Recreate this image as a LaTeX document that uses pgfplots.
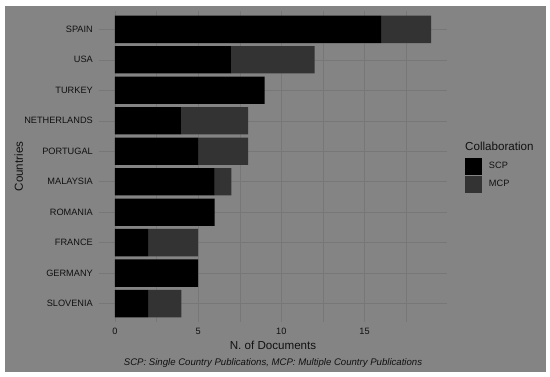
\documentclass[border=0pt]{standalone}
\usepackage{pgfplots}
\pgfplotsset{compat=1.18}
\usepackage{fontspec}
\setmainfont{Liberation Sans}
\definecolor{bg}{HTML}{848484}
\definecolor{gridc}{HTML}{777777}
\definecolor{mcp}{HTML}{333333}
\definecolor{txt}{HTML}{111111}
\begin{document}
\begin{tikzpicture}[x=1pt,y=1pt]
\useasboundingbox (0,0) rectangle (550,377);
\fill[white] (0,0) rectangle (550,377);
\fill[bg] (5,5) rectangle (546,371);
\begin{axis}[
  at={(99pt,55pt)}, anchor=south west,
  width=348pt, height=311pt, scale only axis,
  xmin=-0.95, xmax=19.95, ymin=-0.6, ymax=9.6,
  xbar stacked, bar width=0.9,
  axis line style={draw=none},
  major tick length=0pt, minor tick length=0pt,
  xtick={0,5,10,15}, minor xtick={2.5,7.5,12.5,17.5},
  ytick={0,...,9},
  yticklabels={SLOVENIA,GERMANY,FRANCE,ROMANIA,MALAYSIA,PORTUGAL,NETHERLANDS,TURKEY,USA,SPAIN},
  xmajorgrids, xminorgrids, ymajorgrids,
  major grid style={gridc, line width=0.5pt},
  minor grid style={gridc, line width=0.3pt},
  ticklabel style={font=\fontsize{9.2}{10}\selectfont, text=txt},
  xticklabel style={inner sep=0pt, anchor=north, yshift=-6pt},
  yticklabel style={inner sep=0pt, anchor=east, xshift=-6pt},
  /pgf/number format/assume math mode=true,
  xlabel={N. of Documents}, ylabel={Countries},
  label style={font=\fontsize{11.6}{13}\selectfont, text=txt, inner sep=0pt},
  xlabel style={at={(axis description cs:0.5,-0.09)}, anchor=base},
  ylabel style={at={(axis description cs:-0.2184,0.5)}, anchor=base, rotate=0},
  legend style={at={(axis description cs:1.0517,0.5273)}, anchor=north west,
    draw=none, fill=none, inner sep=0pt, outer sep=0pt, row sep=0.5pt, column sep=7pt,
    font=\fontsize{9.2}{10}\selectfont, text=txt,
    nodes={inner sep=0pt, outer sep=0pt}},
  legend cell align=left,
  legend image code/.code={\fill[#1] (0pt,-8.5pt) rectangle (17pt,8.5pt);},
  clip=false,
]
\addplot[fill=black, draw=none] coordinates {(16,9) (7,8) (9,7) (4,6) (5,5) (6,4) (6,3) (2,2) (5,1) (2,0)};
\addplot[fill=mcp, draw=none] coordinates {(3,9) (5,8) (0,7) (4,6) (3,5) (1,4) (0,3) (3,2) (0,1) (2,0)};
\legend{SCP,MCP}
\node[anchor=base west, inner sep=0pt, font=\fontsize{11.6}{13}\selectfont, text=txt] at (axis description cs:1.0517,0.553) {Collaboration};
\node[anchor=base, inner sep=0pt, font=\fontsize{9.6}{10}\selectfont\itshape, text=txt] at (axis description cs:0.5,-0.1415) {SCP: Single Country Publications, MCP: Multiple Country Publications};
\end{axis}
\end{tikzpicture}
\end{document}
